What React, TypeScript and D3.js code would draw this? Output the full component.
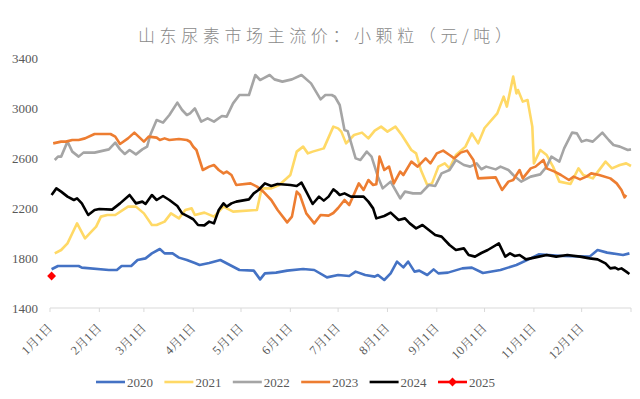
import React from "react";
import * as d3 from "d3";

const title = "山东尿素市场主流价：小颗粒（元/吨）";
const yTicks = [1400, 1800, 2200, 2600, 3000, 3400];
const monthStarts = [0, 31, 59, 90, 120, 151, 181, 212, 243, 273, 304, 334];
const monthLabels = ["1月1日", "2月1日", "3月1日", "4月1日", "5月1日", "6月1日", "7月1日", "8月1日", "9月1日", "10月1日", "11月1日", "12月1日"];
const seriesNames = ["2020", "2021", "2022", "2023", "2024", "2025"];
const seriesColors = ["#4472C4", "#FFD966", "#A5A5A5", "#ED7D31", "#000000", "#FF0000"];

// [day of year offset from Jan 1, price]
const s2020: [number, number][] = [[1,1710],[5,1736],[18,1736],[20,1723],[37,1704],[42,1704],[45,1736],[51,1736],[55,1784],[60,1797],[64,1837],[69,1872],[72,1837],[77,1837],[81,1803],[86,1784],[91,1760],[94,1744],[100,1760],[107,1784],[113,1744],[119,1704],[128,1699],[132,1629],[135,1677],[142,1683],[149,1699],[159,1712],[166,1704],[174,1645],[181,1664],[188,1656],[192,1691],[198,1664],[204,1651],[206,1664],[210,1624],[214,1677],[218,1771],[222,1725],[225,1771],[229,1691],[232,1699],[237,1664],[241,1709],[244,1677],[250,1683],[259,1717],[265,1723],[272,1680],[283,1704],[293,1744],[302,1797],[307,1829],[322,1816],[339,1811],[344,1864],[350,1843],[360,1824],[364,1837]];
const s2021: [number, number][] = [[3,1837],[7,1864],[11,1917],[15,2024],[17,2077],[22,1957],[26,2011],[29,2051],[32,2131],[36,2144],[41,2144],[49,2211],[54,2211],[59,2157],[64,2064],[67,2064],[72,2091],[76,2157],[81,2117],[85,2184],[89,2197],[91,2144],[97,2163],[103,2131],[109,2211],[115,2171],[130,2184],[133,2357],[139,2357],[144,2384],[151,2464],[155,2651],[159,2691],[162,2637],[165,2651],[172,2677],[178,2851],[181,2837],[183,2811],[186,2717],[191,2784],[196,2803],[200,2757],[204,2819],[208,2851],[212,2811],[217,2851],[221,2784],[227,2664],[230,2637],[233,2504],[237,2384],[240,2397],[244,2531],[248,2557],[251,2517],[255,2624],[261,2691],[265,2797],[269,2717],[273,2840],[281,2957],[285,3091],[287,3011],[291,3251],[293,3117],[294,3144],[297,3051],[300,3064],[303,2851],[304,2557],[308,2664],[312,2624],[316,2531],[320,2411],[327,2392],[332,2517],[335,2464],[341,2437],[349,2571],[353,2517],[358,2544],[362,2557],[365,2536]];
const s2022: [number, number][] = [[3,2584],[5,2611],[7,2611],[11,2731],[14,2651],[18,2611],[21,2643],[28,2643],[37,2669],[41,2723],[44,2669],[47,2632],[50,2664],[54,2629],[58,2669],[61,2691],[63,2784],[67,2904],[71,2883],[75,2944],[80,3043],[83,2984],[86,2944],[88,2957],[91,2997],[95,2891],[99,2917],[103,2891],[108,2936],[111,2931],[115,3037],[119,3104],[125,3104],[129,3264],[132,3224],[134,3237],[138,3264],[141,3229],[146,3211],[152,3229],[158,3264],[164,3197],[170,3069],[173,3104],[177,3104],[179,3090],[182,3024],[185,2824],[187,2815],[192,2597],[195,2584],[199,2651],[202,2611],[206,2451],[209,2357],[214,2411],[220,2277],[223,2331],[228,2317],[233,2317],[238,2384],[242,2376],[246,2477],[251,2504],[255,2584],[260,2544],[264,2531],[268,2557],[271,2510],[274,2531],[280,2509],[283,2531],[288,2504],[291,2464],[296,2411],[302,2451],[308,2469],[312,2531],[315,2611],[320,2571],[323,2677],[328,2803],[331,2797],[334,2731],[337,2744],[341,2731],[347,2803],[351,2744],[354,2704],[358,2691],[363,2664],[365,2669]];
const s2023: [number, number][] = [[2,2717],[7,2731],[10,2731],[14,2744],[18,2744],[22,2757],[28,2792],[38,2792],[41,2771],[44,2712],[49,2757],[53,2803],[59,2731],[62,2771],[67,2763],[69,2744],[72,2757],[75,2744],[81,2752],[86,2744],[88,2730],[90,2690],[92,2664],[96,2504],[100,2531],[103,2544],[106,2504],[109,2477],[111,2491],[114,2464],[117,2384],[126,2397],[130,2371],[134,2331],[139,2264],[143,2184],[149,2085],[152,2131],[155,2331],[157,2304],[161,2157],[166,2077],[170,2144],[175,2139],[178,2160],[181,2200],[185,2264],[188,2224],[194,2397],[197,2344],[200,2424],[203,2384],[205,2390],[207,2611],[210,2504],[213,2531],[216,2397],[220,2491],[222,2464],[227,2571],[231,2531],[236,2597],[239,2557],[243,2637],[247,2659],[251,2624],[254,2597],[258,2643],[262,2659],[266,2584],[269,2437],[280,2445],[284,2344],[288,2411],[291,2424],[295,2504],[297,2437],[302,2517],[305,2531],[310,2584],[312,2517],[317,2491],[321,2464],[326,2424],[329,2451],[333,2429],[337,2451],[340,2477],[345,2464],[352,2437],[356,2397],[359,2344],[361,2285],[362,2304]];
const s2024: [number, number][] = [[1,2304],[4,2357],[7,2331],[11,2291],[15,2264],[17,2277],[20,2237],[24,2144],[28,2184],[31,2192],[39,2187],[44,2237],[50,2304],[54,2237],[58,2251],[60,2232],[64,2304],[67,2264],[71,2296],[75,2264],[80,2216],[83,2157],[87,2131],[90,2110],[93,2064],[97,2061],[100,2091],[103,2077],[106,2184],[109,2237],[111,2211],[114,2237],[117,2251],[125,2269],[128,2317],[131,2344],[135,2397],[139,2376],[143,2392],[151,2384],[155,2376],[158,2403],[161,2331],[165,2232],[169,2291],[172,2259],[175,2291],[178,2349],[180,2330],[182,2304],[185,2317],[189,2291],[197,2291],[200,2251],[203,2197],[205,2117],[210,2136],[214,2163],[219,2104],[223,2117],[226,2077],[230,2037],[234,2064],[238,2024],[242,1984],[246,1971],[251,1904],[255,1864],[260,1877],[263,1824],[267,1811],[271,1840],[275,1864],[282,1917],[286,1811],[289,1837],[292,1816],[295,1824],[299,1789],[305,1805],[312,1824],[318,1811],[325,1824],[333,1811],[339,1797],[344,1789],[349,1757],[352,1717],[355,1723],[357,1709],[359,1717],[362,1691],[364,1672]];
const s2025: [number, number][] = [[1,1656]];

const allSeries = [s2020, s2021, s2022, s2023, s2024, s2025];

const W = 640;
const H = 399;
const serif = "'Liberation Serif', 'Times New Roman', 'Noto Serif CJK SC', 'Noto Sans CJK SC', serif";

export default function App() {
  const x = d3.scaleLinear().domain([0, 365]).range([50, 631]);
  const y = d3.scaleLinear().domain([1400, 3400]).range([308, 58]);
  const line = d3.line<[number, number]>().x((d) => x(d[0])).y((d) => y(d[1]));
  const tickDays = [...monthStarts, 365];
  const diamond = d3.symbol().type(d3.symbolDiamond2).size(50)();

  return (
    <svg width={W} height={H} style={{ position: "absolute", left: 0, top: 0, background: "#fff" }}>
      <text x={138} y={42} fontSize={17} fill="#8a8a8a" letterSpacing={4.6} fontFamily="'Noto Sans CJK SC', sans-serif" fontWeight={300}>
        {title}
      </text>
      {yTicks.map((t) => (
        <text key={t} x={38} y={y(t)} dy="0.35em" textAnchor="end" fontSize={13} fill="#595959" fontFamily={serif}>
          {t}
        </text>
      ))}
      <line x1={x(0)} x2={x(365)} y1={308} y2={308} stroke="#d9d9d9" strokeWidth={1} />
      {tickDays.map((d) => (
        <line key={d} x1={x(d)} x2={x(d)} y1={308} y2={312} stroke="#d9d9d9" strokeWidth={1} />
      ))}
      {monthLabels.map((m, i) => (
        <text key={m} transform={`translate(${x(monthStarts[i]) + 3},${329}) rotate(-45)`} textAnchor="end" fontSize={12.5} fill="#595959" fontFamily={serif}>
          {m}
        </text>
      ))}
      {allSeries.map((s, i) =>
        s.length > 1 ? (
          <path key={i} d={line(s) || ""} fill="none" stroke={seriesColors[i]} strokeWidth={2.6} strokeLinejoin="round" />
        ) : null
      )}
      {s2025.map((p, i) => (
        <path key={"m" + i} d={diamond || ""} transform={`translate(${x(p[0])},${y(p[1])})`} fill="#FF0000" />
      ))}
      {seriesNames.map((n, i) => {
        const lx = 96 + i * 68.4;
        return (
          <g key={n}>
            <line x1={lx} x2={lx + 29} y1={382} y2={382} stroke={seriesColors[i]} strokeWidth={2.6} />
            {i === 5 ? <path d={diamond || ""} transform={`translate(${lx + 14.5},382)`} fill="#FF0000" /> : null}
            <text x={lx + 31} y={382} dy="0.35em" fontSize={13} fill="#595959" fontFamily={serif}>
              {n}
            </text>
          </g>
        );
      })}
    </svg>
  );
}
